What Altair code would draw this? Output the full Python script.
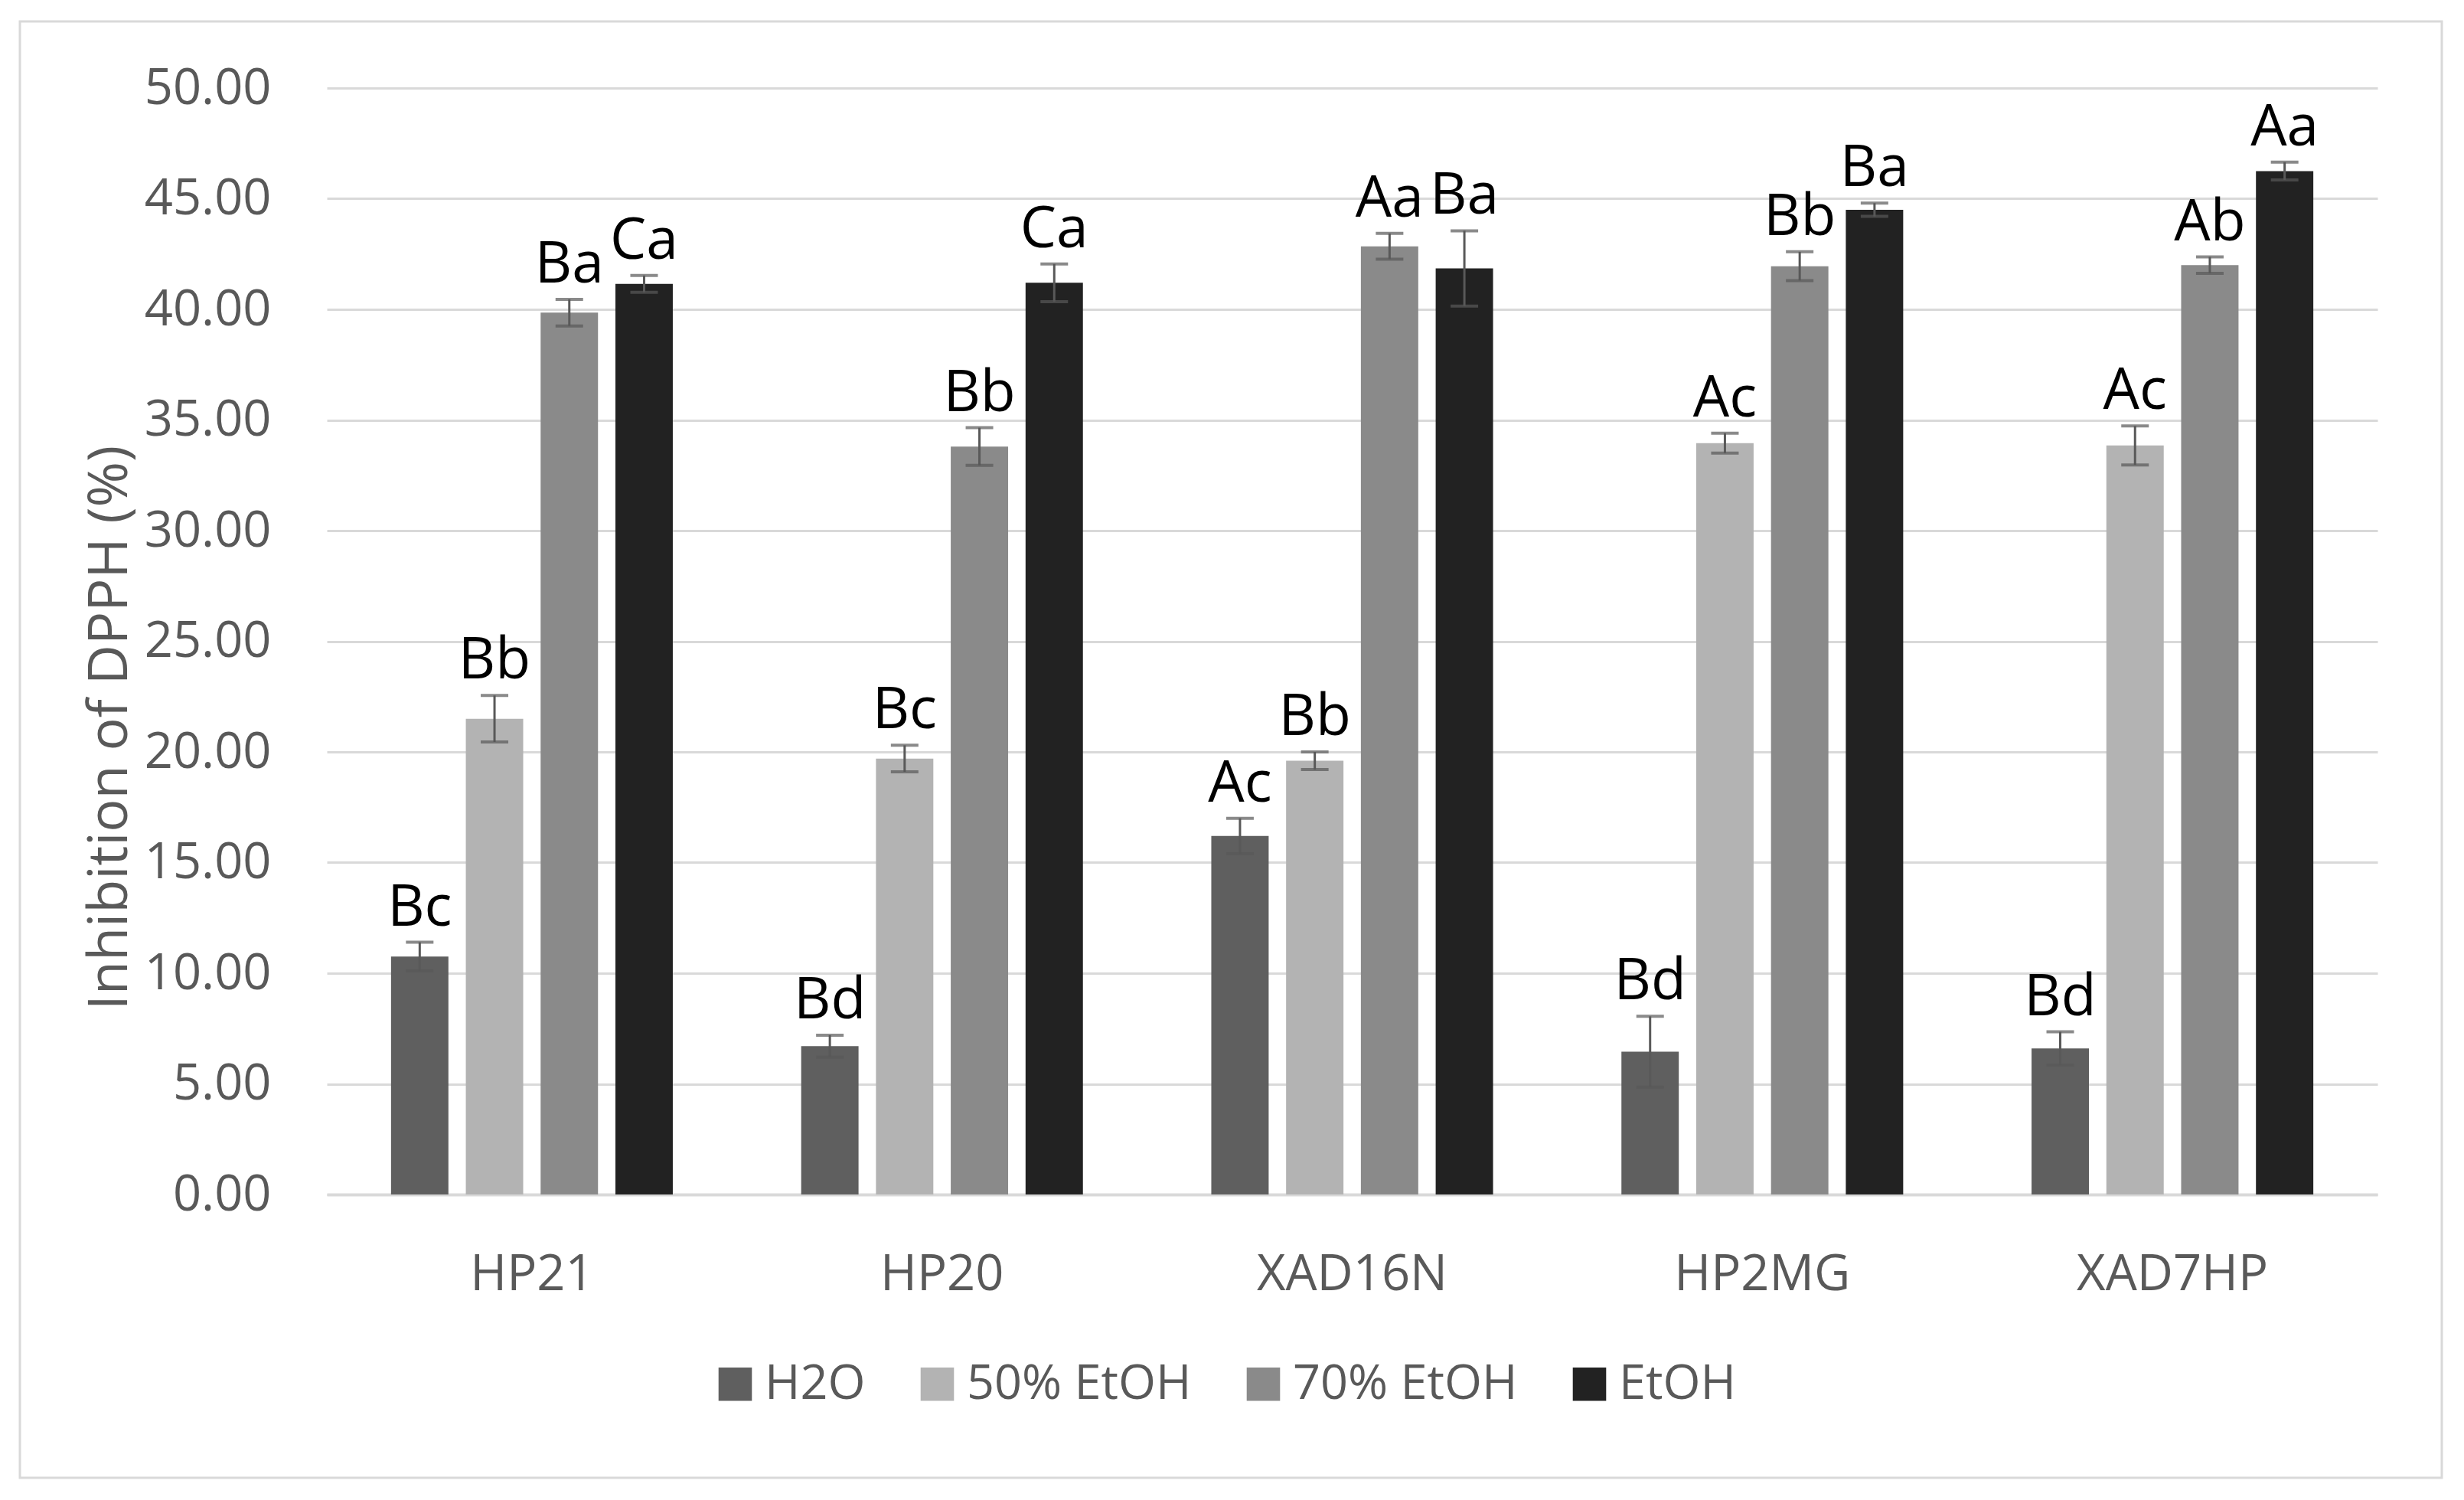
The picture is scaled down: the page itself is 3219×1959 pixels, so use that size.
import altair as alt
import pandas as pd

resins = ["HP21", "HP20", "XAD16N", "HP2MG", "XAD7HP"]
solvents = ["H2O", "50% EtOH", "70% EtOH", "EtOH"]

h2o = [10.75, 6.7, 16.2, 6.45, 6.6]
h2o_err = [0.65, 0.5, 0.8, 1.6, 0.75]
e50 = [21.5, 19.7, 19.6, 33.95, 33.85]
e50_err = [1.05, 0.6, 0.4, 0.45, 0.88]
e70 = [39.85, 33.8, 42.85, 41.95, 42.0]
e70_err = [0.6, 0.85, 0.58, 0.65, 0.37]
etoh = [41.15, 41.2, 41.85, 44.5, 46.25]
etoh_err = [0.38, 0.85, 1.7, 0.3, 0.4]

lab_h2o = ["Bc", "Bd", "Ac", "Bd", "Bd"]
lab_e50 = ["Bb", "Bc", "Bb", "Ac", "Ac"]
lab_e70 = ["Ba", "Bb", "Aa", "Bb", "Ab"]
lab_etoh = ["Ca", "Ca", "Ba", "Ba", "Aa"]

colors = ["#5f5f5f", "#b3b3b3", "#8a8a8a", "#222222"]

rows = []
for s, vals, errs, labs in zip(solvents, [h2o, e50, e70, etoh],
                               [h2o_err, e50_err, e70_err, etoh_err],
                               [lab_h2o, lab_e50, lab_e70, lab_etoh]):
    for r, v, e, l in zip(resins, vals, errs, labs):
        rows.append(dict(resin=r, solvent=s, value=v, err=e, label=l))
df = pd.DataFrame(rows)

FONT = "Open Sans"
GRAY = "#595959"
W, H = 2679, 1445

x = alt.X("resin:N", sort=resins,
          scale=alt.Scale(paddingInner=0.313, paddingOuter=0.1565),
          axis=alt.Axis(title=None, labelAngle=0, labelFontSize=65, labelColor=GRAY,
                        labelFont=FONT, labelLimit=0, ticks=False, tickSize=0,
                        labelPadding=124, labelBaseline="alphabetic", domain=True,
                        domainColor="#d9d9d9", domainWidth=4, grid=False))
xo = alt.XOffset("solvent:N", sort=solvents,
                 scale=alt.Scale(domain=solvents, paddingInner=0.233, paddingOuter=0))
yscale = alt.Scale(domain=[0, 50], nice=False, zero=True)

base = alt.Chart(df).transform_calculate(
    top="datum.value + datum.err", low="datum.value - datum.err")

bars = base.mark_bar().encode(
    x=x, xOffset=xo,
    y=alt.Y("value:Q", scale=yscale,
            axis=alt.Axis(values=list(range(0, 51, 5)), format=".2f",
                          title="Inhibition of DPPH (%)", ticks=False, tickSize=0,
                          labelPadding=73, labelFontSize=65, labelColor=GRAY,
                          labelFont=FONT, labelLimit=0, domain=False,
                          gridColor="#d9d9d9", gridWidth=3, titleFontSize=72,
                          titleFontWeight="normal", titleColor=GRAY, titleFont=FONT,
                          titleAngle=270, titleX=-262, titleY=835,
                          titleBaseline="alphabetic", titleAlign="center",
                          titleLimit=0)),
    color=alt.Color("solvent:N", sort=solvents,
                    scale=alt.Scale(domain=solvents, range=colors),
                    legend=alt.Legend(orient="none", legendX=502, legendY=1661,
                                      direction="horizontal", title=None,
                                      symbolType="square", symbolSize=1900,
                                      symbolStrokeWidth=0, labelFontSize=63,
                                      labelColor=GRAY, labelFont=FONT, labelLimit=0,
                                      columnPadding=62, labelOffset=7, padding=0)),
)

rules = base.mark_rule(color=GRAY, strokeWidth=3).encode(
    x=x, xOffset=xo, y=alt.Y("low:Q", scale=yscale), y2="top:Q")
cap_top = base.mark_tick(color=GRAY, thickness=4, size=36).encode(
    x=x, xOffset=xo, y=alt.Y("top:Q", scale=yscale))
cap_low = base.mark_tick(color=GRAY, thickness=4, size=36).encode(
    x=x, xOffset=xo, y=alt.Y("low:Q", scale=yscale))
texts = base.mark_text(fontSize=75, font=FONT, color="black",
                       baseline="alphabetic", dy=-22).encode(
    x=x, xOffset=xo, y=alt.Y("top:Q", scale=yscale), text="label:N")

border = alt.Chart(pd.DataFrame({"a": [0]})).mark_rect(
    fill="white", fillOpacity=0, stroke="#d9d9d9", strokeWidth=3).encode(
    x=alt.value(-401), x2=alt.value(2763), y=alt.value(-87), y2=alt.value(1815))

chart = alt.layer(border, bars, rules, cap_top, cap_low, texts).properties(
    width=W, height=H,
    autosize=alt.AutoSizeParams(type="none"),
    padding={"left": 419, "top": 107, "right": 100, "bottom": 385},
    background="white",
).configure_view(stroke=None)

chart.save("out.html", embed_options={"renderer": "svg", "actions": False})
